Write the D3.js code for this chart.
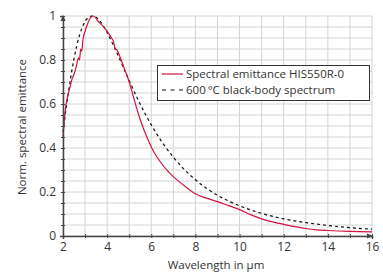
<!DOCTYPE html>
<html>
<head>
<meta charset="utf-8">
<script src="https://cdn.jsdelivr.net/npm/d3@7"></script>
<style>
  body { margin: 0; background: #fff; }
  text { font-family: "Open Sans", sans-serif; fill: #333; }
</style>
</head>
<body>
<div id="chart"></div>
<script>
let emitX = [2.0, 2.1, 2.2, 2.3, 2.4, 2.5, 2.6, 2.7, 2.75, 2.8, 2.85, 2.9, 3.0, 3.1, 3.2, 3.3, 3.35, 3.45, 3.6, 3.8,
             4.0, 4.2, 4.3, 4.35, 4.45, 4.6, 4.8, 5.0, 5.2, 5.4, 5.6, 5.8, 6.0, 6.25, 6.5, 6.75, 7.0, 7.5, 8.0, 8.5,
             9.0, 9.5, 10.0, 10.5, 11.0, 11.5, 12.0, 12.5, 13.0, 13.5, 14.0, 15.0, 16.0];
let emitY = [0.45, 0.57, 0.63, 0.67, 0.71, 0.735, 0.77, 0.81, 0.80, 0.85, 0.84, 0.89, 0.93, 0.96, 0.985, 0.998, 1.0, 0.995, 0.975, 0.955,
             0.93, 0.9, 0.88, 0.855, 0.845, 0.81, 0.755, 0.70, 0.63, 0.56, 0.5, 0.45, 0.405, 0.36, 0.325, 0.295, 0.27, 0.228, 0.192, 0.172,
             0.156, 0.138, 0.12, 0.097, 0.078, 0.064, 0.053, 0.043, 0.034, 0.028, 0.025, 0.021, 0.019];

// black-body curve
let bbX = [2.0, 2.25, 2.5, 2.75, 3.0, 3.25, 3.32, 3.5, 3.75, 4.0, 4.25, 4.5, 5.0, 5.5, 6.0, 6.5, 7.0, 7.5, 8.0, 8.5,
           9.0, 9.5, 10.0, 11.0, 12.0, 13.0, 14.0, 15.0, 16.0];
let bbY = [0.473, 0.656, 0.807, 0.913, 0.975, 0.999, 1.0, 0.994, 0.967, 0.925, 0.874, 0.819, 0.706, 0.599, 0.505, 0.425, 0.358, 0.302, 0.256, 0.217,
           0.185, 0.159, 0.137, 0.103, 0.078, 0.061, 0.048, 0.038, 0.031];

let xTicks = [2, 4, 6, 8, 10, 12, 14, 16];
let yTicks = [0, 0.2, 0.4, 0.6, 0.8, 1];
let legendLabels = ['Spectral emittance HIS550R-0', '600\u2009\u00b0C black-body spectrum'];

let w = 383, h = 275;
let pLeft = 63, pRight = 372, pTop = 16, pBottom = 236;

var xScale = d3.scaleLinear().domain([2, 16]).range([pLeft, pRight]);
var yScale = d3.scaleLinear().domain([0, 1]).range([pBottom, pTop]);

var svg = d3.select('#chart').append('svg')
    .attr('width', w)
    .attr('height', h);

// grid
svg.append('g').selectAll('line')
    .data(d3.range(2, 17, 1))
    .enter().append('line')
    .attr('x1', d => xScale(d)).attr('x2', d => xScale(d))
    .attr('y1', pTop).attr('y2', pBottom)
    .attr('stroke', '#d4d4d4').attr('stroke-width', 1);

svg.append('g').selectAll('line')
    .data(d3.range(0, 21, 1).map(i => i * 0.05))
    .enter().append('line')
    .attr('x1', pLeft).attr('x2', pRight)
    .attr('y1', d => yScale(d)).attr('y2', d => yScale(d))
    .attr('stroke', '#d4d4d4').attr('stroke-width', 1);

// curves
var line = d3.line()
    .x(d => xScale(d[0]))
    .y(d => yScale(d[1]))
    .curve(d3.curveMonotoneX);

svg.append('path')
    .datum(bbX.map((x, i) => [x, bbY[i]]))
    .attr('d', line)
    .attr('fill', 'none')
    .attr('stroke', '#111')
    .attr('stroke-width', 1.2)
    .attr('stroke-dasharray', '3,3');

svg.append('path')
    .datum(emitX.map((x, i) => [x, emitY[i]]))
    .attr('d', line)
    .attr('fill', 'none')
    .attr('stroke', '#d2123e')
    .attr('stroke-width', 1.2);

// axes
var xAxis = d3.axisBottom(xScale).tickValues(d3.range(2, 17, 1)).tickSize(3)
    .tickFormat(d => xTicks.indexOf(d) >= 0 ? d : '');
var yAxis = d3.axisLeft(yScale).tickValues(d3.range(0, 21, 1).map(i => i * 0.05)).tickSize(3)
    .tickFormat(d => {
        let t = yTicks.find(v => Math.abs(v - d) < 1e-6);
        return t === undefined ? '' : t;
    });

let gx = svg.append('g')
    .attr('transform', 'translate(0,' + pBottom + ')')
    .call(xAxis);
gx.select('.domain').attr('stroke', '#444').attr('stroke-width', 1.5);
gx.selectAll('.tick line').attr('stroke', '#444').attr('y1', -2).attr('y2', 2);
gx.selectAll('.tick text').attr('font-size', 12).attr('font-family', '"Open Sans", sans-serif')
    .attr('fill', '#333').attr('y', 6);

let gy = svg.append('g')
    .attr('transform', 'translate(' + pLeft + ',0)')
    .call(yAxis);
gy.select('.domain').attr('stroke', '#444').attr('stroke-width', 1.5);
gy.selectAll('.tick line').attr('stroke', '#444').attr('x1', -2).attr('x2', 2);
gy.selectAll('.tick text').attr('font-size', 12).attr('font-family', '"Open Sans", sans-serif')
    .attr('fill', '#333').attr('x', -7);

// arrow heads
svg.append('path')
    .attr('d', 'M' + (pLeft - 2.5) + ',' + (pTop + 5) + 'L' + pLeft + ',' + (pTop - 1) + 'L' + (pLeft + 2.5) + ',' + (pTop + 5) + 'Z')
    .attr('fill', '#444');
svg.append('path')
    .attr('d', 'M' + (pRight - 5) + ',' + (pBottom - 2.5) + 'L' + (pRight + 1) + ',' + pBottom + 'L' + (pRight - 5) + ',' + (pBottom + 2.5) + 'Z')
    .attr('fill', '#444');

// axis titles
svg.append('text')
    .attr('x', 216)
    .attr('y', 269)
    .attr('font-size', 11.5)
    .style('text-anchor', 'middle')
    .text('Wavelength in \u00b5m');

svg.append('text')
    .attr('transform', 'rotate(-90)')
    .attr('x', -127)
    .attr('y', 26)
    .attr('font-size', 11.5)
    .style('text-anchor', 'middle')
    .text('Norm. spectral emittance');

// legend
let lg = svg.append('g');
lg.append('rect')
    .attr('x', 157.5).attr('y', 65.5)
    .attr('width', 212).attr('height', 35)
    .attr('fill', '#fff').attr('stroke', '#333').attr('stroke-width', 1);

lg.selectAll('line')
    .data(legendLabels)
    .enter().append('line')
    .attr('x1', 162).attr('x2', 183)
    .attr('y1', (d, i) => 74 + 16 * i).attr('y2', (d, i) => 74 + 16 * i)
    .attr('stroke', (d, i) => i == 0 ? '#d2123e' : '#111')
    .attr('stroke-width', 1.2)
    .attr('stroke-dasharray', (d, i) => i == 0 ? null : '4,4.5');

lg.selectAll('text')
    .data(legendLabels)
    .enter().append('text')
    .attr('x', 186)
    .attr('y', (d, i) => 78 + 16 * i)
    .attr('font-size', 11.5)
    .text(d => d);
</script>
</body>
</html>
